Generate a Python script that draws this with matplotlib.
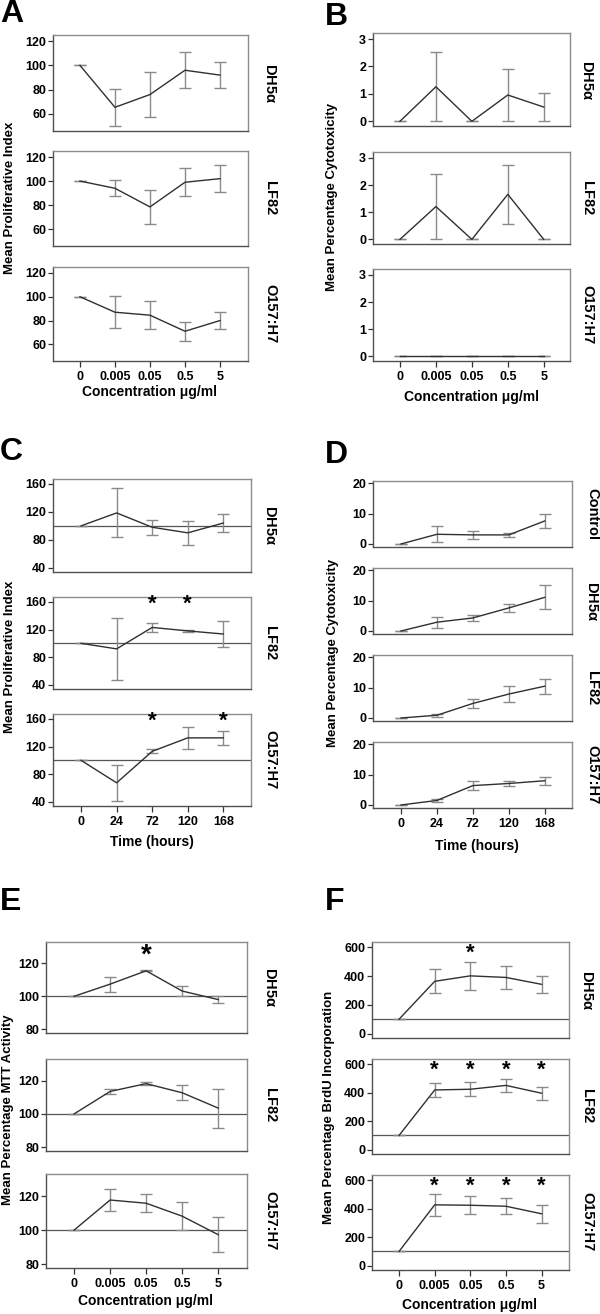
import matplotlib
matplotlib.use("Agg")
from matplotlib import pyplot as plt

plt.rcParams["font.family"] = ["Liberation Sans", "DejaVu Sans"]
plt.rcParams["font.weight"] = "bold"
plt.rcParams["font.size"] = 9
plt.rcParams["mathtext.default"] = "regular"

W, H = 600, 1314

conc_labels = ["0", "0.005", "0.05", "0.5", "5"]
time_labels = ["0", "24", "72", "120", "168"]
strains = [r"DH5$\alpha$", "LF82", "O157:H7"]
strains_d = ["Control", r"DH5$\alpha$", "LF82", "O157:H7"]

# A: proliferative index vs concentration
a_mean = [[100, 65.5, 76, 96, 92], [100, 94, 78.5, 99, 102], [100, 87, 84.5, 71, 80]]
a_err = [[0, 15, 18.5, 15, 10.5], [0, 6.5, 14, 11.5, 11], [0, 13.5, 12, 8, 7]]

# B: cytotoxicity vs concentration
b_mean = [[0, 1.26, 0, 0.96, 0.52], [0, 1.21, 0, 1.66, 0], [0, 0, 0, 0, 0]]
b_err = [[0, 1.25, 0, 0.96, 0.51], [0, 1.21, 0, 1.09, 0], [0, 0, 0, 0, 0]]

# C: proliferative index vs time
c_mean = [[100, 118.5, 98, 90, 104], [100, 92, 123, 118, 113.5], [100, 67.5, 113, 132.5, 132.5]]
c_err = [[0, 35, 10.5, 17.5, 13.5], [0, 45, 6.3, 2, 18.8], [0, 26, 3, 15.6, 10.3]]
c_star_x = [[], [2, 3], [2, 4]]
c_star_y = 156

# D: cytotoxicity vs time
d_mean = [[0, 3.2, 3.0, 3.0, 7.6], [0, 2.9, 4.3, 7.6, 11.1],
          [0, 0.9, 4.8, 7.9, 10.5], [0, 1.5, 6.4, 7.1, 8.0]]
d_err = [[0, 2.7, 1.2, 0.7, 2.3], [0, 1.8, 1.0, 1.3, 4.0],
         [0, 0.45, 1.5, 2.7, 2.5], [0, 0.6, 1.4, 0.7, 1.35]]

# E: MTT activity vs concentration
e_mean = [[100, 107.4, 115.5, 103.2, 98], [100, 113.5, 118.2, 112.7, 103.5], [100, 117.7, 115.8, 108.2, 97.3]]
e_err = [[0, 4.5, 0.4, 3.2, 2], [0, 1.3, 1.1, 4.5, 11.7], [0, 6.5, 5.2, 8.3, 10.3]]
e_star_x = [[2], [], []]
e_star_y = 124.5

# F: BrdU incorporation vs concentration
f_mean = [[100, 364, 402, 391, 343], [100, 420, 425, 452, 397], [100, 428, 425, 418, 365]]
f_err = [[0, 84, 98, 78, 59], [0, 52, 48, 45, 46], [0, 77, 65, 58, 65]]
f_star_x = [[2], [1, 2, 3, 4], [1, 2, 3, 4]]
f_star_y = 560

fig = plt.figure(figsize=(W / 100, H / 100), dpi=100)


def fx(px):
    return px / W


def fy(py):
    return 1 - py / H


def panel(left, right, rows, means, errs, xlabels, ylim, yticks, xlim,
          ref=None, star_x=None, star_y=None, star_size=16):
    for i, (top, bottom) in enumerate(rows):
        ax = fig.add_axes([fx(left), fy(bottom), (right - left) / W, (bottom - top) / H])
        x = list(range(len(xlabels)))
        if ref is not None:
            ax.axhline(ref, color="#555555", lw=0.9, zorder=1)
        ax.errorbar(x, means[i], yerr=errs[i], color="#303030", lw=1.0,
                    ecolor="#8a8a8a", elinewidth=1.0, capsize=4, capthick=1.0, zorder=3)
        if star_x is not None:
            for sx in star_x[i]:
                ax.text(sx, star_y, "*", ha="center", va="center", fontsize=star_size,
                        fontweight="bold")
        ax.set_xlim(*xlim)
        ax.set_ylim(*ylim)
        ax.set_yticks(yticks)
        for s in ax.spines.values():
            s.set_color("#8c8c8c")
            s.set_linewidth(1.0)
        ax.spines["left"].set_color("#505050")
        ax.spines["bottom"].set_color("#505050")
        ax.tick_params(axis="y", length=3.5, width=0.9, pad=1.5, color="#333333")
        if i == len(rows) - 1:
            ax.set_xticks(x)
            ax.set_xticklabels(xlabels)
            ax.tick_params(axis="x", length=4, width=0.9, pad=3.5, color="#333333")
        else:
            ax.set_xticks([])


# A
panel(53, 248, [(35, 131), (151, 246), (267, 361)], a_mean, a_err,
      conc_labels, (46, 125), [60, 80, 100, 120], (-0.77, 4.8))
# B
panel(373, 570, [(33, 126), (152, 244), (269, 361)], b_mean, b_err,
      conc_labels, (-0.17, 3.22), [0, 1, 2, 3], (-0.75, 4.73))
# C
panel(53, 251, [(479, 572), (597, 689), (714, 806)], c_mean, c_err,
      time_labels, (34, 167), [40, 80, 120, 160], (-0.79, 4.78), ref=100,
      star_x=c_star_x, star_y=c_star_y)
# D
panel(373, 572, [(481, 547), (568, 634), (655, 721), (742, 808)], d_mean, d_err,
      time_labels, (-1.0, 20.8), [0, 10, 20], (-0.78, 4.76))
# E
panel(46, 247, [(942, 1033), (1059, 1151), (1174, 1268)], e_mean, e_err,
      conc_labels, (77.7, 133), [80, 100, 120], (-0.78, 4.8), ref=100,
      star_x=e_star_x, star_y=e_star_y, star_size=20)
# F
panel(372, 569, [(942, 1038), (1059, 1154), (1175, 1270)], f_mean, f_err,
      conc_labels, (-31, 638), [0, 200, 400, 600], (-0.76, 4.77), ref=100,
      star_x=f_star_x, star_y=f_star_y)

# strain labels on the right of each row
label_rows = [
    (270, [83, 198, 314], strains),
    (587, [80, 198, 315], strains),
    (270, [525, 643, 760], strains),
    (592, [514, 601, 688, 775], strains_d),
    (270, [987, 1105, 1221], strains),
    (587, [990, 1106, 1222], strains),
]
for px, pys, names in label_rows:
    for py, name in zip(pys, names):
        fig.text(fx(px), fy(py), name, rotation=-90, ha="center", va="center", fontsize=10.5)

# y axis titles
ylabels = [
    (10, 198, "Mean Proliferative Index"),
    (332, 197, "Mean Percentage Cytotoxicity"),
    (10, 657, "Mean Proliferative Index"),
    (333, 653, "Mean Percentage Cytotoxicity"),
    (8, 1110, "Mean Percentage MTT Activity"),
    (329, 1107, "Mean Percentage BrdU Incorporation"),
]
for px, py, t in ylabels:
    fig.text(fx(px), fy(py), t, rotation=90, ha="center", va="center", fontsize=9.5)

# x axis titles
xlabels = [
    (150, 392, "Concentration μg/ml"),
    (472, 397, "Concentration μg/ml"),
    (152, 842, "Time (hours)"),
    (477, 846, "Time (hours)"),
    (146, 1301, "Concentration μg/ml"),
    (470, 1305, "Concentration μg/ml"),
]
for px, py, t in xlabels:
    fig.text(fx(px), fy(py), t, ha="center", va="center", fontsize=10)

# panel letters
letters = [(0, 14, "A"), (325, 17, "B"), (0, 452, "C"), (325, 455, "D"), (0, 902, "E"), (325, 902, "F")]
for px, py, t in letters:
    fig.text(fx(px), fy(py), t, ha="left", va="center", fontsize=23, fontweight="bold")

fig.savefig("out.png", dpi=100)
